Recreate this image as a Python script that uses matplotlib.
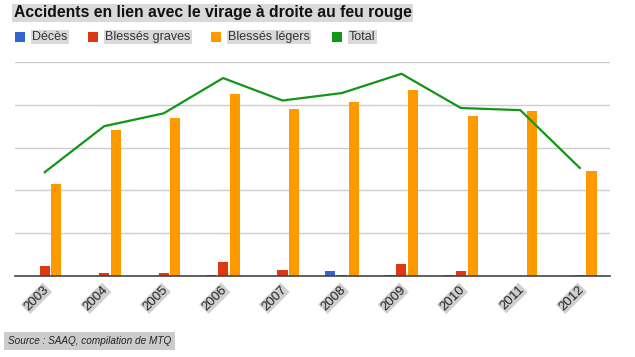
import matplotlib
matplotlib.use("Agg")
import matplotlib.pyplot as plt
import numpy as np

years = ["2003", "2004", "2005", "2006", "2007", "2008", "2009", "2010", "2011", "2012"]
deces = [0, 0, 0, 1, 0, 5, 1, 1, 0, 0]
blesses_graves = [9, 3, 3, 13, 6, 1, 11, 5, 0, 1]
blesses_legers = [86, 136, 148, 170, 156, 163, 174, 150, 154, 98]
total = [97, 140, 152, 185, 164, 171, 189, 157, 155, 101]

series_names = ["Décès", "Blessés graves", "Blessés légers", "Total"]
colors = ["#3366cc", "#dc3912", "#ff9900", "#109618"]

plt.rcParams['font.family'] = ['Liberation Sans', 'DejaVu Sans']

W, H = 635, 357
fig = plt.figure(figsize=(W / 100, H / 100), dpi=100)
left, right, bottom, top = 15, 609.5, 276, 62
ax = fig.add_axes([left / W, 1 - bottom / H, (right - left) / W, (bottom - top) / H])

x = np.arange(len(years))
bw = 0.17
off = 0.197
ax.bar(x - off, deces, width=bw, color=colors[0], zorder=3)
ax.bar(x, blesses_graves, width=bw, color=colors[1], zorder=3)
ax.bar(x + off, blesses_legers, width=bw, color=colors[2], zorder=3)
ax.plot(x, total, color=colors[3], lw=1.6, zorder=4)

ax.set_xlim(-0.5, len(years) - 0.5)
ax.set_ylim(0, 200)
ax.set_yticks(np.arange(0, 201, 40))
ax.yaxis.grid(True, color="#cccccc", lw=1)
ax.set_axisbelow(True)
for s in ["top", "right", "left"]:
    ax.spines[s].set_visible(False)
ax.spines["bottom"].set_color("#444444")
ax.spines["bottom"].set_linewidth(1.2)
ax.spines["bottom"].set_zorder(5)
ax.tick_params(axis="y", left=False, labelleft=False)
ax.tick_params(axis="x", bottom=False)
ax.set_xticks(x)
ax.set_xticklabels([])

# rotated year labels with gray highlight
for xi, yr in zip(x, years):
    ax.annotate(yr, xy=(xi, 0), xycoords="data", xytext=(-1.5, -5.5), textcoords="offset points",
                rotation=45, ha="right", va="top", fontsize=9.5, color="#222222",
                rotation_mode="anchor",
                bbox=dict(boxstyle="square,pad=0.05", fc="#d0d0d0", ec="none"))

# title
fig.text(14 / W, 1 - 13 / H, "Accidents en lien avec le virage à droite au feu rouge",
         fontsize=11.3, fontweight="bold", color="#111111", ha="left", va="center",
         bbox=dict(boxstyle="square,pad=0.1", fc="#d9d9d9", ec="none"))

# legend
leg_items = [(15, 32), (88, 105), (211, 228), (332, 349)]
for (sx, tx), name, c in zip(leg_items, series_names, colors):
    fig.patches.append(plt.Rectangle((sx / W, 1 - 42 / H), 10 / W, 10 / H,
                                     transform=fig.transFigure, fc=c, ec="none"))
    fig.text(tx / W, 1 - 37 / H, name, fontsize=9.0, color="#333333", ha="left", va="center",
             bbox=dict(boxstyle="square,pad=0.1", fc="#d9d9d9", ec="none"))

# source
fig.text(8 / W, 1 - 341 / H, "Source : SAAQ, compilation de MTQ", fontsize=7.2, style="italic",
         color="#222222", ha="left", va="center",
         bbox=dict(boxstyle="square,pad=0.4", fc="#cccccc", ec="none"))

fig.savefig("out.png", dpi=100)
